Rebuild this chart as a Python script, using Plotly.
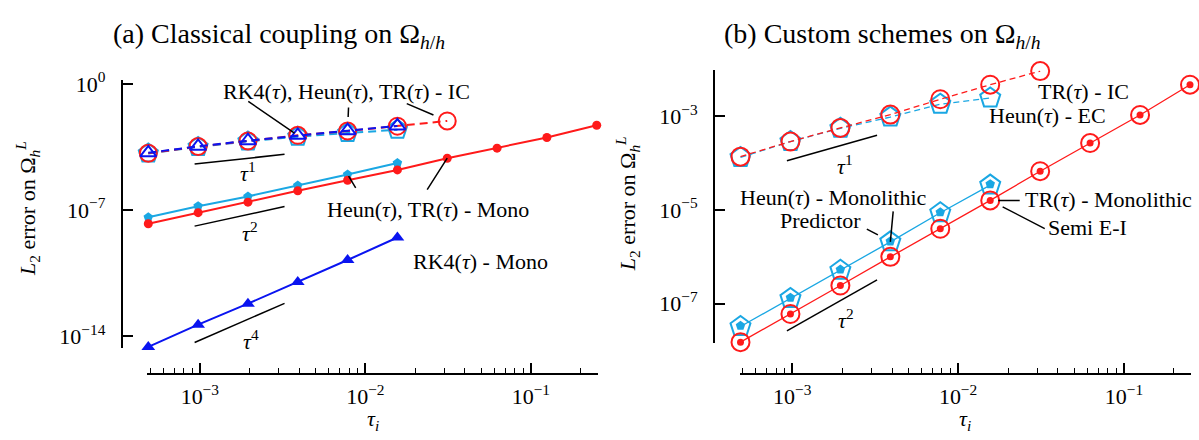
import numpy as np
import plotly.graph_objects as go

# ---------------- data ----------------
tau = [0.00048828125, 0.0009765625, 0.001953125, 0.00390625, 0.0078125,
       0.015625, 0.03125, 0.0625, 0.125, 0.25]

# (a) classical coupling
a_ic_tr = [1.41e-4, 3.31e-4, 6.76e-4, 1.38e-3, 2.40e-3, 4.47e-3, 8.71e-3]
a_ic_heun = [1.35e-4, 3.16e-4, 6.31e-4, 1.17e-3, 1.86e-3, 2.82e-3]
a_ic_rk4 = [1.48e-4, 3.39e-4, 6.92e-4, 1.38e-3, 2.51e-3, 4.57e-3]
a_mono_heun = [3.89e-8, 1.62e-7, 5.62e-7, 2.24e-6, 9.33e-6, 3.98e-5]
a_mono_tr = [1.70e-8, 7.08e-8, 2.69e-7, 1.15e-6, 4.47e-6, 1.66e-5,
             7.41e-5, 2.69e-4, 1.05e-3, 5.01e-3]
a_mono_rk4 = [2.51e-15, 4.27e-14, 6.31e-13, 1.0e-11, 1.66e-10, 2.95e-9]

# (b) custom schemes
b_ic_tr = [1.37e-4, 2.88e-4, 5.62e-4, 1.08e-3, 2.29e-3, 4.68e-3, 9.12e-3]
b_ec_heun = [1.32e-4, 2.88e-4, 5.50e-4, 9.55e-4, 1.80e-3, 2.45e-3]
b_mono_tr = [1.52e-8, 6.05e-8, 2.45e-7, 1.0e-6, 3.98e-6, 1.60e-5,
             6.70e-5, 2.67e-4, 1.06e-3, 4.68e-3]
b_semi_ei = [1.52e-8, 6.05e-8, 2.45e-7, 1.0e-6, 3.98e-6, 1.60e-5,
             6.70e-5, 2.67e-4, 1.06e-3, 4.68e-3]
b_mono_heun = [3.27e-8, 1.30e-7, 5.18e-7, 2.09e-6, 8.71e-6, 3.39e-5]
b_predictor = [3.39e-8, 1.35e-7, 5.37e-7, 2.14e-6, 8.91e-6, 3.55e-5]

# slope reference segments: (panel, x_start, x_end, y_at_start, order)
slope_refs = [("a", 9.3e-4, 3.25e-3, 3.5e-5, 1),
              ("a", 9.3e-4, 3.25e-3, 1.26e-8, 2),
              ("a", 9.3e-4, 3.25e-3, 4.4e-15, 4),
              ("b", 9.3e-4, 3.25e-3, 1.12e-4, 1),
              ("b", 9.3e-4, 3.25e-3, 2.65e-8, 2)]

x_tick_exp = [-3, -2, -1]
ya_tick_exp = [-14, -7, 0]
yb_tick_exp = [-7, -5, -3]

# ---------------- style ----------------
W, H = 1199, 440
FONT = "Liberation Serif"
RED = "#ff1a1a"
BLUE = "#0a14f0"
CYAN = "#1aa7e3"


def P(x, y):
    return x / W, 1 - y / H


fig = go.Figure()


def add(ax, x, y, **kw):
    xa, ya = ("x", "y") if ax == "a" else ("x2", "y2")
    fig.add_trace(go.Scatter(x=x, y=y, xaxis=xa, yaxis=ya, cliponaxis=False,
                             showlegend=False, **kw))


n = len
# --- panel (a) IC dashed
add("a", tau[:n(a_ic_heun)], a_ic_heun, mode="lines+markers",
    line=dict(color=CYAN, width=2, dash="8px,5px"),
    marker=dict(symbol="pentagon-open", size=20, color=CYAN, line=dict(width=2, color=CYAN)))
add("a", tau[:n(a_ic_tr)], a_ic_tr, mode="lines+markers",
    line=dict(color=RED, width=2, dash="8px,5px"),
    marker=dict(symbol="circle-open", size=17, color=RED, line=dict(width=2, color=RED)))
add("a", tau[:n(a_ic_rk4)], a_ic_rk4, mode="lines+markers",
    line=dict(color=BLUE, width=2, dash="8px,5px"),
    marker=dict(symbol="triangle-up-open", size=14, color=BLUE, line=dict(width=2, color=BLUE)))
# --- panel (a) mono
add("a", tau[:n(a_mono_heun)], a_mono_heun, mode="lines+markers",
    line=dict(color=CYAN, width=2),
    marker=dict(symbol="pentagon", size=10, color=CYAN))
add("a", tau[:n(a_mono_tr)], a_mono_tr, mode="lines+markers",
    line=dict(color=RED, width=2),
    marker=dict(symbol="circle", size=9, color=RED))
add("a", tau[:n(a_mono_rk4)], a_mono_rk4, mode="lines+markers",
    line=dict(color=BLUE, width=2),
    marker=dict(symbol="triangle-up", size=12, color=BLUE))

# --- panel (b) IC / EC dashed
add("b", tau[:n(b_ec_heun)], b_ec_heun, mode="lines+markers",
    line=dict(color=CYAN, width=1.3, dash="6px,4px"),
    marker=dict(symbol="pentagon-open", size=21, color=CYAN, line=dict(width=2, color=CYAN)))
add("b", tau[:n(b_ic_tr)], b_ic_tr, mode="lines+markers",
    line=dict(color=RED, width=1.3, dash="6px,4px"),
    marker=dict(symbol="circle-open", size=18, color=RED, line=dict(width=2, color=RED)))
# --- panel (b) mono
add("b", tau[:n(b_mono_heun)], b_mono_heun, mode="lines+markers",
    line=dict(color=CYAN, width=1.3),
    marker=dict(symbol="pentagon-open", size=21, color=CYAN, line=dict(width=2, color=CYAN)))
add("b", tau[:n(b_predictor)], b_predictor, mode="markers",
    marker=dict(symbol="pentagon", size=10, color=CYAN))
add("b", tau[:n(b_mono_tr)], b_mono_tr, mode="lines+markers",
    line=dict(color=RED, width=1.3),
    marker=dict(symbol="circle-open", size=18, color=RED, line=dict(width=2, color=RED)))
add("b", tau[:n(b_semi_ei)], b_semi_ei, mode="markers",
    marker=dict(symbol="circle", size=7, color=RED))

# --- slope reference segments
for panel, x0, x1, y0, p in slope_refs:
    add(panel, [x0, x1], [y0, y0 * (x1 / x0) ** p], mode="lines",
        line=dict(color="black", width=1.5))

# ---------------- axes ----------------
PADX = 0.006


def xaxis(dom):
    minor_vals = [m * 10.0 ** e for e in range(-4, 0) for m in range(2, 10)
                  if tau[0] <= m * 10.0 ** e <= tau[-1]]
    return dict(type="log", domain=dom,
                range=[np.log10(tau[0]) - PADX, np.log10(tau[-1]) + PADX],
                anchor="free", position=1 - 372.7 / H,
                showline=True, linecolor="black", linewidth=1.8,
                ticks="inside", ticklen=10, tickwidth=1.5, tickcolor="black",
                tickmode="array", tickvals=[10.0 ** e for e in x_tick_exp],
                ticktext=["10<sup>−%d</sup>" % -e for e in x_tick_exp],
                minor=dict(tickmode="array", tickvals=minor_vals, ticks="inside",
                           ticklen=5, tickwidth=1.2, tickcolor="black", showgrid=False),
                ticklabelstandoff=3,
                showgrid=False, zeroline=False,
                tickfont=dict(family=FONT, size=22, color="black"))


def yaxis(dom, rng, pos, exps):
    def lab(e):
        return "10<sup>0</sup>" if e == 0 else "10<sup>−%d</sup>" % -e
    return dict(type="log", domain=dom, range=rng, anchor="free", position=pos,
                showline=True, linecolor="black", linewidth=1.8,
                ticks="inside", ticklen=10, tickwidth=1.5, tickcolor="black",
                tickmode="array", tickvals=[10.0 ** e for e in exps],
                ticktext=[lab(e) for e in exps], ticklabelstandoff=11,
                showgrid=False, zeroline=False,
                tickfont=dict(family=FONT, size=22, color="black"))


fig.update_layout(
    width=W, height=H, margin=dict(l=0, r=0, t=0, b=0),
    paper_bgcolor="white", plot_bgcolor="white",
    font=dict(family=FONT, color="black", size=20),
    xaxis=xaxis([147.3 / W, 597.7 / W]),
    yaxis=yaxis([1 - 346 / H, 1 - 70 / H], [-14.65, 0.215], 121.7 / W, ya_tick_exp),
    xaxis2=xaxis([739.5 / W, 1191 / W]),
    yaxis2=yaxis([1 - 341.0 / H, 1 - 60.2 / H], [-7.835, -2.025], 714 / W, yb_tick_exp),
)

ann = []


def text(t, cx, cy, size=22, angle=0):
    x, y = P(cx, cy)
    ann.append(dict(text=t, x=x, y=y, xref="paper", yref="paper", showarrow=False,
                    xanchor="center", yanchor="middle", textangle=angle,
                    font=dict(family=FONT, size=size, color="black")))


T = "<i>τ</i>"
text("(a) Classical coupling on Ω<sub><i>h</i>/<i>h</i></sub>", 279, 24, size=28)
text("(b) Custom schemes on Ω<sub><i>h</i>/<i>h</i></sub>", 882, 24, size=28)
text("<i>L</i><sub>2</sub> error on Ω<sub><i>h</i></sub><sup><i>L</i></sup>", 27, 203, angle=-90)
text("<i>L</i><sub>2</sub> error on Ω<sub><i>h</i></sub><sup><i>L</i></sup>", 627, 198, angle=-90)
text("<i>τ<sub>i</sub></i>", 372.5, 420)
text("<i>τ<sub>i</sub></i>", 965, 420)

text("RK4(%s), Heun(%s), TR(%s) - IC" % (T, T, T), 347, 82)
text("Heun(%s), TR(%s) - Mono" % (T, T), 427.5, 203)
text("RK4(%s) - Mono" % T, 480, 257)
text(T + "<sup>1</sup>", 248, 165)
text(T + "<sup>2</sup>", 250, 227)
text(T + "<sup>4</sup>", 251, 338)

text("TR(%s) - IC" % T, 1083, 82)
text("Heun(%s) - EC" % T, 1047.5, 107)
text("TR(%s) - Monolithic" % T, 1108.6, 193)
text("Semi E-I", 1087.5, 222)
text("Heun(%s) - Monolithic" % T, 833.6, 191)
text("Predictor", 820, 215)
text(T + "<sup>1</sup>", 845, 158)
text(T + "<sup>2</sup>", 846, 316)


def pointer(panel, x, y, ax, ay, standoff):
    xr, yr = ("x", "y") if panel == "a" else ("x2", "y2")
    ann.append(dict(text="", x=np.log10(x), y=np.log10(y), xref=xr, yref=yr,
                    showarrow=True, arrowhead=0, arrowwidth=1.5, arrowcolor="black",
                    ax=ax, ay=ay, standoff=standoff, startstandoff=0))


pointer("a", tau[3], a_ic_tr[3], -51, -35, 4)
pointer("a", tau[4], a_ic_tr[4], 1, -25, 14)
pointer("a", tau[6], a_ic_tr[6], -42, -18, 15)
pointer("a", tau[4], a_mono_heun[4], 9, 15, 2)
pointer("a", tau[6], a_mono_tr[6], -21, 33, 0)

pointer("b", tau[5], b_mono_tr[5], 31, 0, 8)
pointer("b", tau[5], b_semi_ei[5], 56, 29, 14)
pointer("b", tau[3], b_mono_heun[3], 3, -32, 0)
pointer("b", tau[3], b_predictor[3], -25, -13, 14)

fig.update_layout(annotations=ann)
fig.write_html("out.html")
